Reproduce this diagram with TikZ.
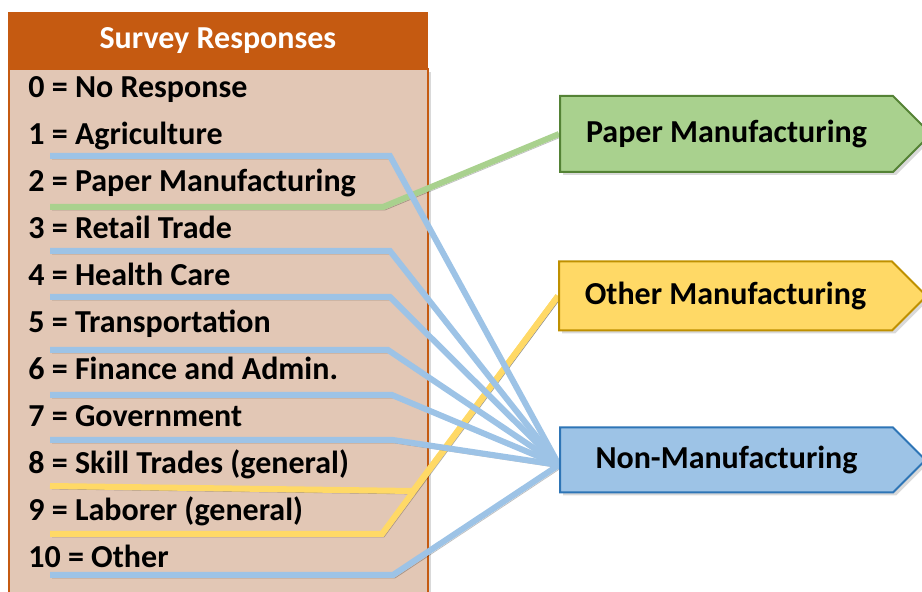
\documentclass[tikz,border=0pt]{standalone}
\usepackage{fontspec}
\setmainfont{Carlito}
\usetikzlibrary{positioning}
\usetikzlibrary{shapes.symbols}
\usetikzlibrary{shadows}
\usetikzlibrary{backgrounds}
\definecolor{panelfill}{RGB}{226,199,181}
\definecolor{panelline}{RGB}{197,90,17}
\definecolor{greenfill}{RGB}{169,209,142}
\definecolor{greenline}{RGB}{84,130,53}
\definecolor{yellowfill}{RGB}{255,217,102}
\definecolor{yellowline}{RGB}{191,144,0}
\definecolor{bluefill}{RGB}{157,195,230}
\definecolor{blueline}{RGB}{46,117,182}
\pgfdeclarelayer{links}
\pgfsetlayers{background,links,main}
\tikzset{
  % soft shadows, as in the slide
  every shadow/.style={opacity=.3,shadow xshift=1.5pt,shadow yshift=-1.5pt},
  % one unit is one pixel of the reference
  px/.style={x=0.5pt,y=-0.5pt},
  listfont/.style={font=\fontsize{16pt}{19pt}\selectfont\bfseries},
  response/.style={listfont,inner sep=0pt,anchor=base west},
}
\tikzset{
  panelhead/.style={listfont,text=white,fill=panelline,draw=panelline,
    minimum width=209.5pt,minimum height=28pt,inner sep=0pt,anchor=north west},
  panelbody/.style={fill=panelfill,draw=panelline,line width=1pt,drop shadow,
    minimum width=209.5pt,minimum height=280pt,inner sep=0pt,anchor=north west},
}
\tikzset{category/.style={
    signal,signal to=east,signal pointer angle=90,
    fill=#1fill,draw=#1line,line width=1pt,drop shadow,
    listfont,text width=166.5pt,align=flush center,inner xsep=0pt,anchor=west,
  }
}
\tikzset{papercat/.style={category=green}}
\tikzset{othercat/.style={category=yellow}}
\tikzset{noncat/.style={category=blue}}
\tikzset{
  % coloured underline running to its category
  link/.style={line width=3pt,draw=#1fill,
    preaction={draw=black,opacity=.25,transform canvas={xshift=1pt,yshift=-1.5pt}}},
  paperlink/.style={link=green},
  otherlink/.style={link=yellow},
  nonlink/.style={link=blue},
}

\begin{document}
\begin{tikzpicture}[px]
  \useasboundingbox (0,0) rectangle (922,592);
  \clip (0,0) rectangle (922,592);
  \begin{pgfonlayer}{background}
    \node[panelbody] (body) at (8,68) {};
    \node[panelhead] (head) at (8,12) {Survey Responses};
  \end{pgfonlayer}
  \node[response] (r0) at (28,98) {0 = No Response};
  \node[response] (r1) at (28,145) {1 = Agriculture};
  \node[response] (r2) at (28,192) {2 = Paper Manufacturing};
  \node[response] (r3) at (28,239) {3 = Retail Trade};
  \node[response] (r4) at (28,286) {4 = Health Care};
  \node[response] (r5) at (28,333) {5 = Transportation};
  \node[response] (r6) at (28,380) {6 = Finance and Admin.};
  \node[response] (r7) at (28,427) {7 = Government};
  \node[response] (r8) at (28,474) {8 = Skill Trades (general)};
  \node[response] (r9) at (28,521) {9 = Laborer (general)};
  \node[response] (r10) at (28,568) {10 = Other};

  \node[papercat,minimum height=38pt] (paper) at (559,134) {Paper Manufacturing};
  \node[othercat,minimum height=34.5pt] (other) at (558,296) {Other Manufacturing};
  \node[noncat,minimum height=32.5pt] (nonman) at (559,460) {Non-Manufacturing};

  % underlines: start and bend of each
  \coordinate (a1) at (50,156);  \coordinate (b1) at (390,156);
  \coordinate (a2) at (50,207);  \coordinate (b2) at (383,207);
  \coordinate (a3) at (50,251);  \coordinate (b3) at (390,251);
  \coordinate (a4) at (50,297);  \coordinate (b4) at (390,297);
  \coordinate (a5) at (50,350);  \coordinate (b5) at (388,350);
  \coordinate (a6) at (50,395);  \coordinate (b6) at (392,395);
  \coordinate (a7) at (50,440);  \coordinate (b7) at (393,440);
  \coordinate (a8) at (50,486);  \coordinate (b8) at (413,491);
  \coordinate (a9) at (50,534);  \coordinate (b9) at (382,534);
  \coordinate (a10) at (50,575); \coordinate (b10) at (393,575);
  \begin{pgfonlayer}{links}
    \draw[otherlink] (a8) -- (b8) -- (other.west);
    \draw[otherlink] (a9) -- (b9) -- (other.west);
    \draw[paperlink] (a2) -- (b2) -- (paper.west);
    \foreach \n in {1,3,4,5,6,7,10}
      \draw[nonlink] (a\n) -- (b\n) -- ([yshift=-2.5pt]nonman.west);
  \end{pgfonlayer}
\end{tikzpicture}
\end{document}
